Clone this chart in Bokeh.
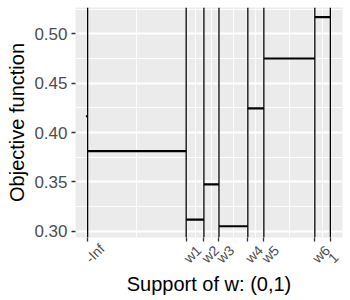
import math
from bokeh.plotting import figure
from bokeh.models import Range1d, FixedTicker, PrintfTickFormatter, Span
from bokeh.embed import file_html
from bokeh.resources import INLINE

# ---- data ----
break_labels = ["-Inf", "w1", "w2", "w3", "w4", "w5", "w6", "1"]
break_positions = [0.0, 0.406, 0.479, 0.541, 0.660, 0.726, 0.936, 1.0]
step_values = [0.3811, 0.3118, 0.3475, 0.3050, 0.4245, 0.4750, 0.5168]
initial_value = 0.4164
y_ticks = [0.30, 0.35, 0.40, 0.45, 0.50]
y_minor = [0.325, 0.375, 0.425, 0.475, 0.525]

FONT = "Liberation Sans"

p = figure(width=350, height=300, output_backend="svg", toolbar_location=None,
           x_range=Range1d(-0.05, 1.05), y_range=Range1d(0.29362, 0.52665),
           min_border_left=75, min_border_right=8, min_border_top=7, min_border_bottom=63)
p.background_fill_color = "#EBEBEB"
p.border_fill_color = "white"
p.outline_line_color = None

# grids
x_mid = [(a + b) / 2 for a, b in zip(break_positions[:-1], break_positions[1:])]
p.xgrid.ticker = FixedTicker(ticks=break_positions, minor_ticks=x_mid)
p.ygrid.ticker = FixedTicker(ticks=y_ticks, minor_ticks=y_minor)
for g in (p.xgrid, p.ygrid):
    g.grid_line_color = "white"
    g.grid_line_width = 1.8
    g.minor_grid_line_color = "white"
    g.minor_grid_line_width = 0.9

# axes
p.xaxis.ticker = FixedTicker(ticks=break_positions)
p.xaxis.major_label_overrides = {pos: txt for pos, txt in zip(break_positions, break_labels)}
p.yaxis.ticker = FixedTicker(ticks=y_ticks)
p.yaxis.formatter = PrintfTickFormatter(format="%.2f")
for ax in (p.xaxis[0], p.yaxis[0]):
    ax.axis_line_color = None
    ax.major_tick_line_color = "#333333"
    ax.major_tick_line_width = 1.3
    ax.major_tick_out = 4
    ax.major_tick_in = 0
    ax.minor_tick_line_color = None
    ax.axis_label_text_font = FONT
    ax.axis_label_text_font_size = "20px"
    ax.axis_label_text_font_style = "normal"
    ax.axis_label_text_color = "black"
    ax.major_label_text_font = FONT
    ax.major_label_text_color = "#4D4D4D"

p.yaxis.major_label_text_font_size = "17px"
p.yaxis.major_label_standoff = 4
p.yaxis.axis_label = "Objective function"
p.yaxis.axis_label_standoff = 3

# 45-degree labels that start at the tick and run up to the right
p.xaxis.major_label_orientation = math.pi / 4 - 2 * math.pi
p.xaxis.major_label_text_font_size = "14px"
p.xaxis.major_label_standoff = 19
p.xaxis.axis_label = "Support of w: (0,1)"
p.xaxis.axis_label_standoff = 4

# vertical lines at breaks
for pos in break_positions:
    p.add_layout(Span(location=pos, dimension="height", line_color="black", line_width=1.3))

# step segments
p.segment(x0=break_positions[:-1], x1=break_positions[1:], y0=step_values, y1=step_values,
          line_color="black", line_width=2.2)
p.segment(x0=[break_positions[0] - 0.007], x1=[break_positions[0]],
          y0=[initial_value], y1=[initial_value], line_color="black", line_width=2)

open("out.html", "w").write(file_html(p, INLINE))
